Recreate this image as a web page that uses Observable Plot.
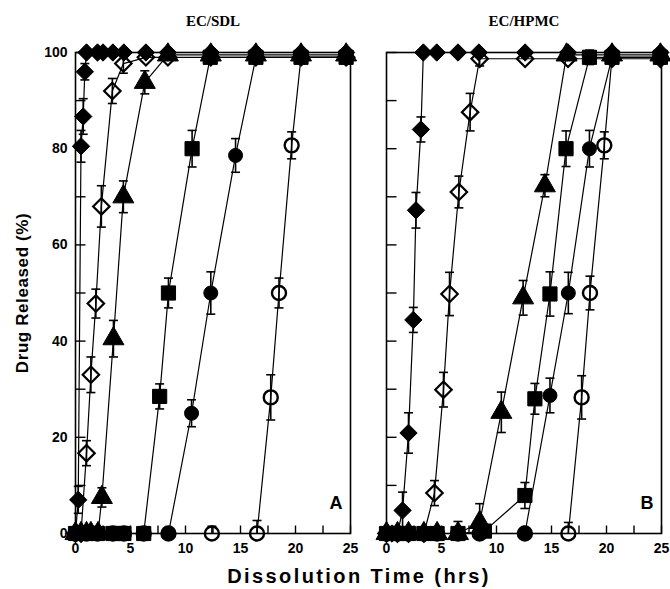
<!DOCTYPE html>
<html>
<head>
<meta charset="utf-8">
<script src="https://cdn.jsdelivr.net/npm/d3@7"></script>
<script src="https://cdn.jsdelivr.net/npm/@observablehq/plot@0.6"></script>
<style>
  body { margin: 0; background: #fff; }
</style>
</head>
<body>
<div id="chart"></div>
<script>
// ---------- data ----------
const panels = ["EC/SDL", "EC/HPMC"];
const panelLetters = ["A", "B"];
const xTickLabels = [0, 5, 10, 15, 20, 25];
const xMinorTicks = [0, 2.5, 5, 7.5, 10, 12.5, 15, 17.5, 20, 22.5, 25];
const yTickLabels = [0, 20, 40, 60, 80, 100];
const yMinorTicks = [0, 10, 20, 30, 40, 50, 60, 70, 80, 90, 100];
const xLabel = "Dissolution Time (hrs)";
const yLabel = "Drug Released (%)";

// each entry: [time (hrs), drug released (%), sd (%)]
const sdlFilledDiamond = [[0,0,0],[0.25,7,2.8],[0.5,80.5,3.3],[0.7,86.7,3.7],[0.85,96,1.7],[1.0,100,0],[2.0,100,0],[2.5,100,0],[3.4,100,0],[4.4,100,0],[6.4,100,0],[8.4,100,0],[12.3,100,0],[16.4,100,0],[20.5,100,0],[24.6,100,0]];
const sdlOpenDiamond = [[0,0,0],[0.5,0,0],[1.0,16.7,2.6],[1.4,33,3.7],[1.85,47.8,3],[2.35,68,4.3],[3.35,92,2.6],[4.35,97.7,2],[6.4,99,0],[8.4,99,0],[12.3,99,0],[16.4,99,0],[20.5,99,0],[24.6,99,0]];
const sdlTriangle = [[0,0,0],[0.5,0,0],[1.0,0,0],[1.4,0,0],[2.05,0,0],[2.4,7.5,2],[3.45,40.5,3.8],[4.35,70,3.3],[6.3,93.8,2.4],[8.4,99.5,0],[12.3,99.5,0],[16.4,99.5,0],[20.5,99.5,0],[24.6,99.5,0]];
const sdlSquare = [[0,0,0],[1.0,0,0],[2.0,0,0],[3.4,0,0],[4.4,0,0],[6.2,0,0],[7.65,28.5,2.6],[8.45,50,3.1],[10.6,80,3.8],[12.25,99,0],[16.4,99,0],[20.5,99,0],[24.6,99,0]];
const sdlFilledCircle = [[0,0,0],[1.0,0,0],[2.0,0,0],[3.4,0,0],[4.4,0,0],[6.2,0,0],[8.45,0,0],[10.55,25,2.8],[12.3,50,4.4],[14.55,78.6,3.5],[16.4,99,0],[20.5,99,0],[24.6,99,0]];
const sdlOpenCircle = [[0,0,0],[1.0,0,0],[2.0,0,0],[3.4,0,0],[4.4,0,0],[6.2,0,0],[8.45,0,0],[12.4,0,1.5],[16.5,0,2.7],[17.75,28.3,4.7],[18.5,50,3.1],[19.65,80.7,2.8],[20.5,99,0],[24.6,99,0]];

const hpmcFilledDiamond = [[0,0,0],[0.5,0,0],[1.0,0,0],[1.46,4.8,3.8],[2.0,20.9,4.2],[2.44,44.4,2.6],[2.68,67.2,3.7],[3.13,84,2.6],[3.35,100,0],[4.57,100,0],[6.5,100,0],[8.4,100,0],[12.6,100,0],[16.5,100,0],[20.5,100,0],[24.9,100,0]];
const hpmcOpenDiamond = [[0,0,0],[1.0,0,0],[2.0,0,0],[3.4,0,0],[4.36,8.4,2.6],[5.18,29.9,3.6],[5.73,49.8,4.5],[6.58,71,3.3],[7.6,87.6,3.9],[8.47,98.7,1.5],[12.6,98.7,0],[16.5,98.7,0],[20.5,98.7,0],[24.9,98.7,0]];
const hpmcTriangle = [[0,0,0],[1.0,0,0],[2.0,0,0],[3.4,0,0],[4.6,0,0],[6.5,0,0],[8.47,2.3,3.9],[10.44,25.2,4.2],[12.42,49,3.6],[14.4,72.3,2.3],[16.37,99.5,0],[20.5,99.5,0],[24.9,99.5,0]];
const hpmcSquare = [[0,0,0],[1.0,0,0],[2.0,0,0],[3.4,0,0],[4.6,0,0],[6.5,0,0],[8.9,0.5,0],[12.58,7.9,2.7],[13.49,28,3.2],[14.86,49.8,4.6],[16.32,80,3.7],[18.45,99,1.5],[20.5,99,0],[24.9,99,0]];
const hpmcFilledCircle = [[0,0,0],[1.0,0,0],[2.0,0,0],[3.4,0,0],[4.6,0,0],[6.5,0,2.5],[8.47,0,0],[12.58,0,0],[14.86,28.7,3.6],[16.53,50,4.3],[18.45,80,3.8],[20.5,99,0],[24.9,99,0]];
const hpmcOpenCircle = [[0,0,0],[1.0,0,0],[2.0,0,0],[3.4,0,0],[4.6,0,0],[6.5,0,0],[8.47,0,0],[12.58,0,0],[16.53,0,2.3],[17.74,28.3,4.5],[18.5,50,3.5],[19.8,80.7,2.8],[20.5,99,0],[24.9,99,0]];

// ---------- build table ----------
const seriesData = [
  [panels[0], "filledDiamond", sdlFilledDiamond],
  [panels[0], "openDiamond", sdlOpenDiamond],
  [panels[0], "triangle", sdlTriangle],
  [panels[0], "square", sdlSquare],
  [panels[0], "filledCircle", sdlFilledCircle],
  [panels[0], "openCircle", sdlOpenCircle],
  [panels[1], "filledDiamond", hpmcFilledDiamond],
  [panels[1], "openDiamond", hpmcOpenDiamond],
  [panels[1], "triangle", hpmcTriangle],
  [panels[1], "square", hpmcSquare],
  [panels[1], "filledCircle", hpmcFilledCircle],
  [panels[1], "openCircle", hpmcOpenCircle]
];
const rows = seriesData.flatMap(([panel, series, pts]) =>
  pts.map(([t, v, sd]) => ({panel, series, key: panel + "|" + series, t, v, sd})));
const errRows = rows.filter(d => d.sd > 0);

// ---------- styles (drawing order: open markers first, filled on top) ----------
const markerStyle = {
  openCircle:    {symbol: "circle",   fill: "none", stroke: "black", strokeWidth: 2.4, r: 7},
  openDiamond:   {symbol: "diamond2", fill: "none", stroke: "black", strokeWidth: 2.2, r: 7.4},
  square:        {symbol: "square",   fill: "black", stroke: "black", strokeWidth: 1, r: 8},
  filledCircle:  {symbol: "circle",   fill: "black", stroke: "black", strokeWidth: 1, r: 7},
  triangle:      {symbol: "triangle", fill: "black", stroke: "black", strokeWidth: 1, r: 7.8},
  filledDiamond: {symbol: "diamond2", fill: "black", stroke: "black", strokeWidth: 1, r: 7.8}
};
const capSymbol = {draw(ctx) { ctx.moveTo(-4.5, 0); ctx.lineTo(4.5, 0); }};
const yTickSymbol = {draw(ctx) { ctx.moveTo(0, 0); ctx.lineTo(10, 0); }};
const xTickSymbol = {draw(ctx) { ctx.moveTo(0, 0); ctx.lineTo(0, -8); }};
const sans = "'Liberation Sans', Arial, Helvetica, sans-serif";
const serif = "'Liberation Serif', 'Times New Roman', serif";

const dotMarks = Object.entries(markerStyle).map(([name, s]) =>
  Plot.dot(rows.filter(d => d.series === name), {x: "t", y: "v", fx: "panel", ...s}));

const chart = Plot.plot({
  width: 670,
  height: 589,
  marginLeft: 75,
  marginRight: 8,
  marginTop: 52,
  marginBottom: 56,
  style: {fontFamily: sans, fontSize: "14px", fontWeight: "bold", color: "black", background: "white", overflow: "visible"},
  fx: {domain: panels, axis: null, paddingInner: 0.1156, paddingOuter: 0},
  x: {domain: [0, 25]},
  y: {domain: [0, 100]},
  marks: [
    Plot.dot(yMinorTicks, {y: d => d, frameAnchor: "left", symbol: yTickSymbol, fill: "none", stroke: "black", strokeWidth: 1.4}),
    Plot.dot(xMinorTicks, {x: d => d, frameAnchor: "bottom", symbol: xTickSymbol, fill: "none", stroke: "black", strokeWidth: 1.4}),
    Plot.line(rows, {x: "t", y: "v", z: "key", fx: "panel", stroke: "black", strokeWidth: 1.2}),
    ...dotMarks,
    Plot.ruleX(errRows, {x: "t", y1: d => Math.max(0, d.v - d.sd), y2: d => d.v + d.sd, fx: "panel", stroke: "black", strokeWidth: 1.6}),
    Plot.dot(errRows, {x: "t", y: d => d.v + d.sd, fx: "panel", symbol: capSymbol, fill: "none", stroke: "black", strokeWidth: 1.6, r: 2}),
    Plot.dot(errRows.filter(d => d.v - d.sd > 0), {x: "t", y: d => d.v - d.sd, fx: "panel", symbol: capSymbol, fill: "none", stroke: "black", strokeWidth: 1.6, r: 2}),
    Plot.frame({stroke: "black", strokeWidth: 1.6}),
    Plot.axisY({ticks: yTickLabels, tickSize: 0, tickPadding: 8, label: null, fontSize: 14}),
    Plot.axisX({ticks: xTickLabels, tickSize: 0, tickPadding: 10, label: null, fontSize: 14}),
    Plot.text(panels, {fx: d => d, text: d => d, frameAnchor: "top", dy: -37, fontFamily: serif, fontSize: 15, fontWeight: "bold"}),
    Plot.text(panels, {fx: d => d, text: (d, i) => panelLetters[i], frameAnchor: "bottom-right", dx: -8, dy: -25, fontSize: 18, fontWeight: "bold"}),
    Plot.text([yLabel], {fx: () => panels[0], text: d => d, frameAnchor: "left", textAnchor: "middle", rotate: -90, dx: -53, fontSize: 17, fontWeight: "bold"}),
    Plot.text([xLabel], {fx: () => panels[0], text: d => d, frameAnchor: "bottom", textAnchor: "middle", dx: 146, dy: 49, fontSize: 20, fontWeight: "bold"})
  ]
});
const allText = d3.select(chart).selectAll("text");
allText.filter(function() { return this.textContent === xLabel; }).style("letter-spacing", "2.4px");
allText.filter(function() { return this.textContent === yLabel; }).style("letter-spacing", "0.6px");
document.getElementById("chart").appendChild(chart);
</script>
</body>
</html>
